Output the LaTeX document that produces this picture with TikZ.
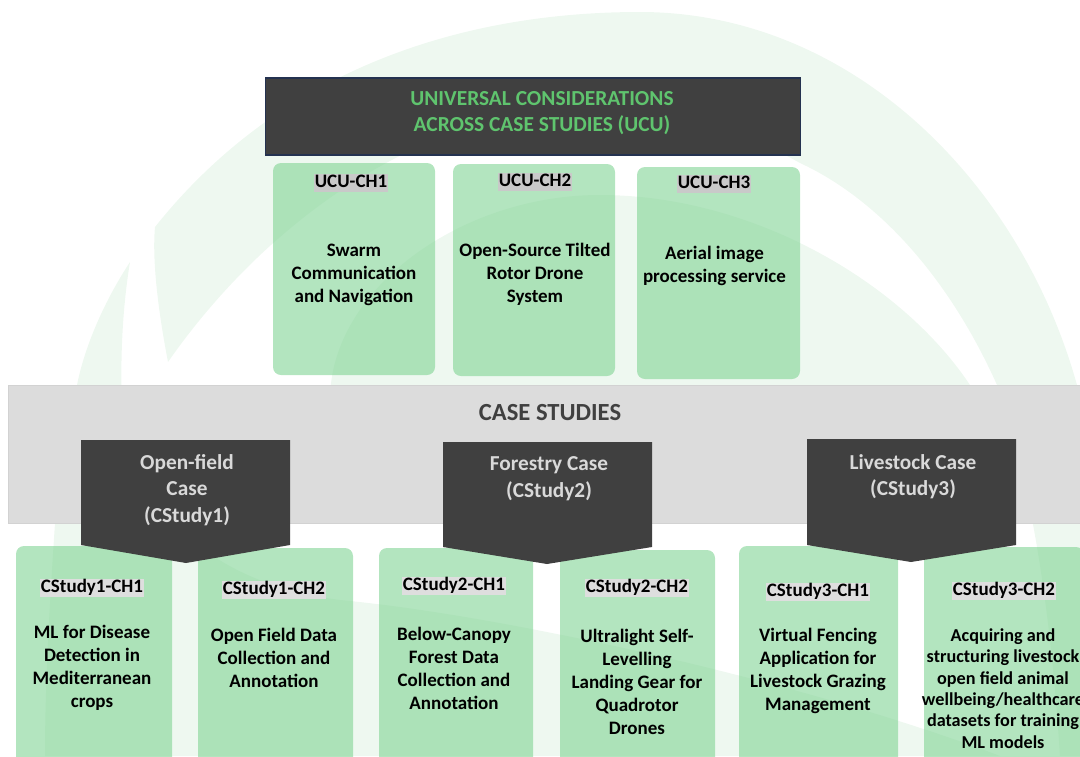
\documentclass[tikz,border=0pt]{standalone}
\usepackage{fontspec}
\setmainfont{Carlito}
\usetikzlibrary{positioning}
\definecolor{wmgreen}{HTML}{EEF8F0}
\definecolor{boxgreen}{RGB}{128,212,148}
\definecolor{darkbar}{HTML}{404040}
\definecolor{ucugreen}{RGB}{95,196,110}
\definecolor{bandgray}{HTML}{DCDCDC}
\definecolor{capgray}{HTML}{D9D9D9}
\definecolor{toptag}{HTML}{C9C9C9}
\definecolor{lowtag}{HTML}{DEDEDE}
\definecolor{navy}{HTML}{243250}

\begin{document}
\begin{tikzpicture}
    [
    x=1pt,y=-1pt,
    box/.style={rectangle,rounded corners=8pt,fill=boxgreen,fill opacity=0.6,inner sep=0pt},
    tag/.style={fill=#1,inner xsep=0.5pt,inner ysep=0pt,text height=14pt,text depth=4.5pt,font=\fontsize{19}{23}\selectfont\bfseries},
    body/.style={align=center,inner sep=0pt,font=\fontsize{19}{23}\selectfont\bfseries},
    casetext/.style={align=center,text=capgray,inner sep=0pt,font=\fontsize{21.3}{26.5}\selectfont\bfseries}
    ]
    \useasboundingbox (0,0) rectangle (1080,756);
    % watermark
    \fill [wmgreen] (130,262) .. controls (105,300) and (85,345) .. (77,385)
      .. controls (65,440) and (57,480) .. (55,523) .. controls (50,600) and (45,680) .. (45,756)
      -- (1000,756) .. controls (800,680) and (500,615) .. (340,600)
      .. controls (220,585) and (150,520) .. (125,440) .. controls (118,380) and (122,310) .. (130,262) -- cycle;
    \fill [wmgreen] (168,362) .. controls (158,310) and (152,260) .. (155,227)
      .. controls (280,70) and (460,12) .. (640,12) .. controls (850,12) and (1020,180) .. (1077,385)
      -- (1090,385) -- (1090,756) -- (1060,756) .. controls (1050,600) and (1030,480) .. (997,385)
      .. controls (950,280) and (880,200) .. (800,163) .. controls (740,130) and (690,110) .. (620,105)
      .. controls (420,100) and (260,230) .. (168,362) -- cycle;
    \fill [wmgreen] (330,400) .. controls (330,290) and (460,195) .. (600,195)
      .. controls (750,195) and (900,280) .. (970,385) -- (985,400) -- cycle;

    % universal considerations
    \node (ucu) at (533,116.5) [draw=navy,line width=1.5pt,fill=darkbar,minimum width=535pt,minimum height=77pt] {};
    \node (ucutext) at (542,113) [align=center,inner sep=0pt,text=ucugreen,font=\fontsize{21.4}{26}\selectfont\bfseries]
      {UNIVERSAL CONSIDERATIONS\\ACROSS CASE STUDIES (UCU)};
    \node (u1) at (354,269) [box,minimum width=162pt,minimum height=212pt] {};
    \node (u2) at (534,270) [box,minimum width=162pt,minimum height=212pt] {};
    \node (u3) at (718.5,273) [box,minimum width=163pt,minimum height=212pt] {};
    \node (u1tag) at (351,183) [tag=toptag] {UCU-CH1};
    \node (u2tag) at (535,182) [tag=toptag] {UCU-CH2};
    \node (u3tag) at (714,184) [tag=toptag] {UCU-CH3};
    \node (u1text) at (354,275) [body] {Swarm\\Communication\\and Navigation};
    \node (u2text) at (535,274) [body] {Open-Source Tilted\\Rotor Drone\\System};
    \node (u3text) at (714.5,265.5) [body] {Aerial image\\processing service};

    % case studies
    \node (cases) at (546.5,454) [fill=bandgray,draw=gray!35,line width=1pt,minimum width=1077pt,minimum height=138pt] {};
    \node (casestext) at (550,413) [inner sep=0pt,text=darkbar,font=\fontsize{24.6}{29}\selectfont\bfseries] {CASE STUDIES};
    \node (c11) at (94,658) [box,minimum width=156pt,minimum height=224pt] {};
    \node (c12) at (275.5,659) [box,minimum width=155pt,minimum height=222pt] {};
    \node (c21) at (456,659) [box,minimum width=154pt,minimum height=222pt] {};
    \node (c22) at (637.5,660) [box,minimum width=155pt,minimum height=220pt] {};
    \node (c31) at (818.5,658) [box,minimum width=159pt,minimum height=224pt] {};
    \node (c32) at (1004,658.5) [box,minimum width=160pt,minimum height=223pt] {};
    \fill [darkbar] (81,440) -- (290,440) -- (290,545) -- (186,563) -- (81,545) -- cycle;
    \fill [darkbar] (443,442) -- (652,442) -- (652,547) -- (547,564) -- (443,547) -- cycle;
    \fill [darkbar] (807,439) -- (1016,439) -- (1016,545) -- (911,562) -- (807,545) -- cycle;
    \node (p1) at (187,490) [casetext] {Open-field\\Case\\(CStudy1)};
    \node (p2) at (549,478.5) [casetext] {Forestry Case\\(CStudy2)};
    \node (p3) at (913,476.5) [casetext] {Livestock Case\\(CStudy3)};
    \node (c11tag) at (92,588) [tag=lowtag] {CStudy1-CH1};
    \node (c12tag) at (274,590) [tag=lowtag] {CStudy1-CH2};
    \node (c21tag) at (454,586) [tag=lowtag] {CStudy2-CH1};
    \node (c22tag) at (637,588) [tag=lowtag] {CStudy2-CH2};
    \node (c31tag) at (818,592) [tag=lowtag] {CStudy3-CH1};
    \node (c32tag) at (1004,591) [tag=lowtag] {CStudy3-CH2};
    \node (c11text) at (92,667.5) [body] {ML for Disease\\Detection in\\Mediterranean\\crops};
    \node (c12text) at (274,658) [body] {Open Field Data\\Collection and\\Annotation};
    \node (c21text) at (454,668.5) [body] {Below-Canopy\\Forest Data\\Collection and\\Annotation};
    \node (c22text) at (637,682) [body] {Ultralight Self-\\Levelling\\Landing Gear for\\Quadrotor\\Drones};
    \node (c31text) at (818,671) [body] {Virtual Fencing\\Application for\\Livestock Grazing\\Management};
    \node (c32text) at (1003,688.5) [body,font=\fontsize{18.2}{21.4}\selectfont\bfseries]
      {Acquiring and\\structuring livestock\\open field animal\\wellbeing/healthcare\\datasets for training\\ML models};
  \end{tikzpicture}
\end{document}
